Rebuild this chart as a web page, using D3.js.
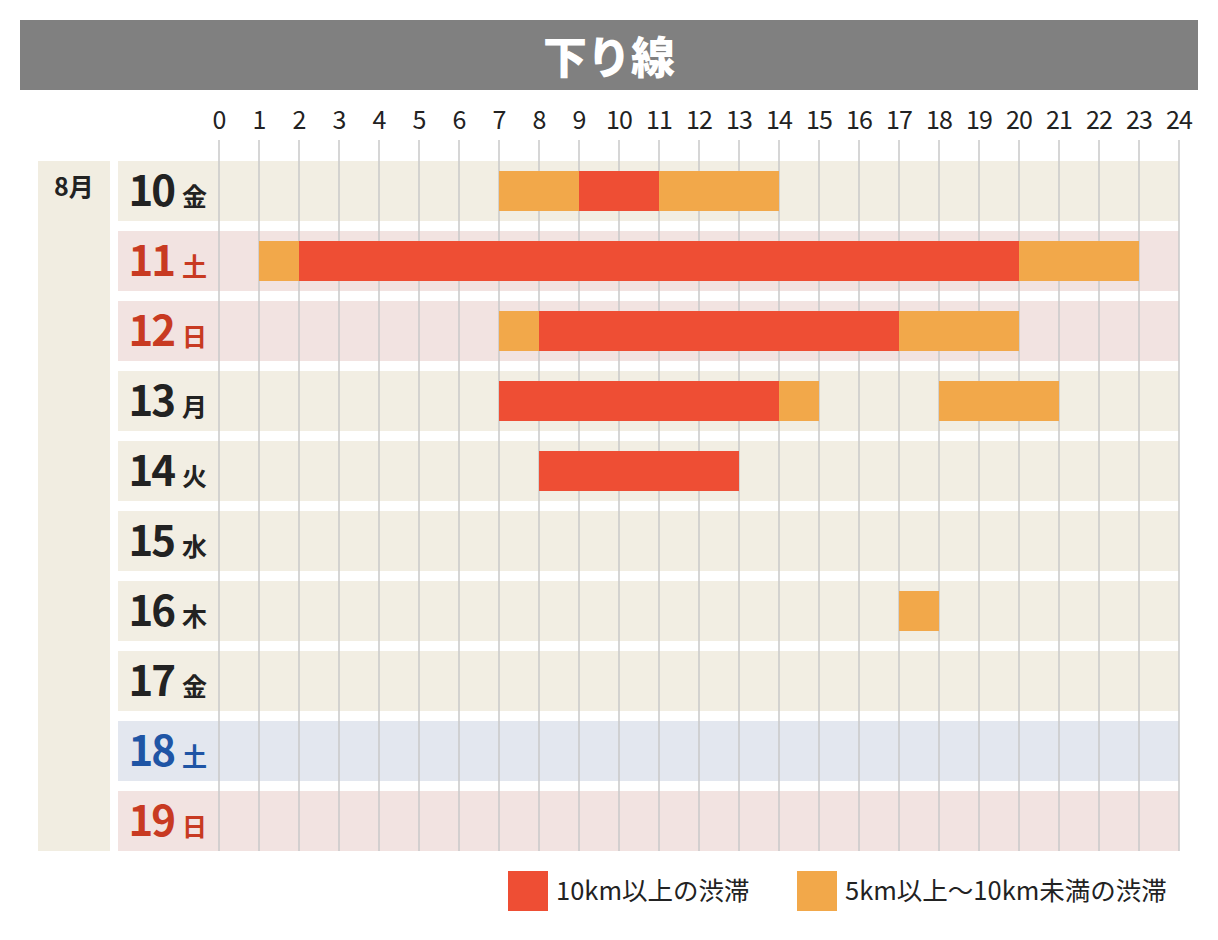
<!DOCTYPE html>
<html><head><meta charset="utf-8">
<script src="https://cdn.jsdelivr.net/npm/d3@7"></script>
<style>body{margin:0;background:#fff}text{font-family:"Noto Sans CJK JP","Noto Sans",sans-serif}</style>
</head><body><script>
var days = ["10", "11", "12", "13", "14", "15", "16", "17", "18", "19"];
var weekdays = ["金", "土", "日", "月", "火", "水", "木", "金", "土", "日"];
var dayTypes = ["w", "h", "h", "w", "w", "w", "w", "w", "sat", "h"];
var hours = d3.range(0, 25);
// jams: [dayIndex, start, end, level] level 1 = 10km+, 2 = 5-10km
var jams = [
    [0, 7, 9, 2], [0, 9, 11, 1], [0, 11, 14, 2],
    [1, 1, 2, 2], [1, 2, 20, 1], [1, 20, 23, 2],
    [2, 7, 8, 2], [2, 8, 17, 1], [2, 17, 20, 2],
    [3, 7, 14, 1], [3, 14, 15, 2], [3, 18, 21, 2],
    [4, 8, 13, 1],
    [6, 17, 18, 2]
];
var legendLabels = ["10km以上の渋滞", "5km以上〜10km未満の渋滞"];

var bg = {w: "#f2eee3", h: "#f2e3e1", sat: "#e3e7ef"};
var fg = {w: "#222", h: "#c83a22", sat: "#1f55a5"};
var jamColor = {1: "#ee4e34", 2: "#f2a84a"};

var svg = d3.select("body").append("svg").attr("width", 1218).attr("height", 940);

var x = d3.scaleLinear().domain([0, 24]).range([219, 1179]);
var y = d3.scaleBand().domain(d3.range(days.length)).range([161, 851]).paddingInner(10 / 70).paddingOuter(0);

// title
svg.append("rect").attr("x", 20).attr("y", 20).attr("width", 1178).attr("height", 70).attr("fill", "#808080");
svg.append("text").attr("x", 609).attr("y", 55).attr("text-anchor", "middle").attr("dominant-baseline", "central")
    .attr("fill", "#fff").attr("font-size", 44).attr("font-weight", 900).text("下り線");

// month panel
svg.append("rect").attr("x", 38).attr("y", 161).attr("width", 72).attr("height", y(9) + y.bandwidth() - 161).attr("fill", "#f1ede1");
svg.append("text").attr("x", 74).attr("y", 196).attr("text-anchor", "middle").attr("font-size", 25)
    .attr("font-weight", 700).attr("fill", "#222").text("8月");

// row backgrounds
svg.selectAll(".row").data(days).enter().append("rect")
    .attr("x", 118).attr("y", function (d, i) { return y(i); })
    .attr("width", 1179 - 118).attr("height", y.bandwidth())
    .attr("fill", function (d, i) { return bg[dayTypes[i]]; });

// grid
svg.selectAll(".grid").data(hours).enter().append("line")
    .attr("x1", function (d) { return x(d); }).attr("x2", function (d) { return x(d); })
    .attr("y1", 140).attr("y2", y(9) + y.bandwidth())
    .attr("stroke", "#c8c8c8").attr("stroke-width", 1.5);

svg.selectAll(".hour").data(hours).enter().append("text")
    .attr("x", function (d) { return x(d); }).attr("y", 129).attr("text-anchor", "middle")
    .attr("font-size", 25).attr("letter-spacing", -1).attr("fill", "#222").text(function (d) { return d; });

// day labels
var lab = svg.selectAll(".day").data(days).enter().append("text")
    .attr("x", 207).attr("y", function (d, i) { return y(i) + y.bandwidth() / 2 + 15; })
    .attr("text-anchor", "end").attr("font-weight", 700)
    .attr("fill", function (d, i) { return fg[dayTypes[i]]; });
lab.append("tspan").attr("font-size", 42).attr("letter-spacing", -2).text(function (d) { return d; });
lab.append("tspan").attr("font-size", 25).attr("dx", 8).text(function (d, i) { return weekdays[i]; });

// jam bars
svg.selectAll(".jam").data(jams).enter().append("rect")
    .attr("x", function (d) { return x(d[1]); })
    .attr("y", function (d) { return y(d[0]) + 10; })
    .attr("width", function (d) { return x(d[2]) - x(d[1]); })
    .attr("height", y.bandwidth() - 20)
    .attr("fill", function (d) { return jamColor[d[3]]; });

// legend
var lx = [508, 797];
legendLabels.forEach(function (t, i) {
    svg.append("rect").attr("x", lx[i]).attr("y", 871).attr("width", 40).attr("height", 40).attr("fill", jamColor[i + 1]);
    svg.append("text").attr("x", lx[i] + 48).attr("y", 900).attr("font-size", 25.5).attr("fill", "#222").text(t);
});
</script></body></html>
